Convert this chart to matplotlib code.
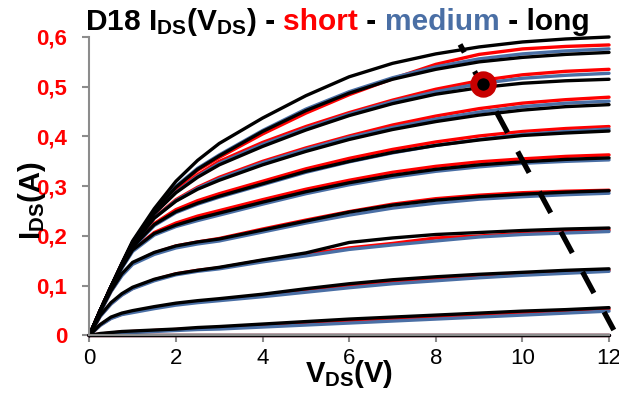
"""
Caracteristiques I_DS(V_DS) du transistor D18 pour trois longueurs de grille
(short / medium / long), une courbe par tension de grille.
"""
import matplotlib
matplotlib.use("Agg")
import matplotlib.pyplot as plt

plt.rcParams["font.family"] = ["Liberation Sans", "DejaVu Sans"]
plt.rcParams["mathtext.default"] = "regular"
plt.rcParams["lines.scale_dashes"] = False

RED = "#FF0000"
BLUE = "#4A6FA5"
BLACK = "#000000"
GREY = "#8C8C8C"

# tension drain-source (V)
v_ds = [0, 0.25, 0.5, 0.75, 1, 1.5, 2, 2.5, 3, 4, 5, 6, 7, 8, 9, 10, 11, 12]

# courant I_DS (A), une liste par tension de grille, de la plus forte a la plus faible
long_ids = [
    [0, .05, .098, .145, .19, .255, .31, .352, .386, .437, .482, .52, .547, .566, .58, .59, .596, .600],
    [0, .05, .098, .144, .188, .25, .298, .334, .361, .41, .452, .487, .515, .535, .55, .559, .565, .569],
    [0, .05, .098, .143, .186, .245, .287, .318, .343, .38, .413, .442, .466, .485, .498, .507, .512, .515],
    [0, .05, .098, .141, .182, .236, .27, .294, .312, .343, .37, .394, .414, .43, .443, .453, .46, .464],
    [0, .05, .097, .14, .178, .223, .249, .266, .28, .305, .33, .35, .368, .382, .393, .402, .407, .411],
    [0, .05, .096, .137, .172, .205, .222, .235, .246, .268, .289, .307, .322, .334, .343, .349, .354, .357],
    [0, .048, .09, .124, .147, .167, .18, .188, .194, .212, .23, .248, .262, .272, .279, .284, .288, .291],
    [0, .04, .066, .084, .097, .113, .124, .131, .137, .152, .166, .187, .196, .203, .207, .211, .214, .216],
    [0, .022, .037, .045, .05, .058, .065, .07, .074, .083, .094, .104, .112, .118, .123, .127, .131, .134],
    [0, .004, .006, .008, .009, .011, .013, .016, .018, .023, .028, .033, .037, .041, .045, .049, .052, .056],
    [0, 0, 0, 0, 0, 0, 0, 0, 0, 0, 0, 0, 0, 0, 0, 0, 0, 0],
]

short_ids = [
    [0, .05, .098, .144, .187, .248, .296, .332, .358, .405, .447, .484, .516, .545, .565, .576, .581, .584],
    [0, .05, .098, .143, .186, .246, .29, .323, .35, .388, .42, .448, .473, .495, .512, .524, .531, .535],
    [0, .05, .098, .141, .182, .237, .273, .298, .318, .35, .377, .401, .423, .441, .456, .467, .474, .479],
    [0, .05, .097, .14, .178, .225, .253, .271, .285, .31, .335, .356, .374, .389, .401, .41, .416, .42],
    [0, .05, .096, .137, .172, .207, .226, .24, .251, .273, .294, .312, .328, .34, .349, .355, .36, .363],
    [0, .047, .089, .122, .145, .166, .18, .188, .195, .214, .232, .249, .264, .275, .282, .287, .29, .292],
    [0, .039, .064, .082, .095, .112, .124, .131, .136, .151, .163, .176, .185, .196, .2, .205, .209, .212],
    [0, .021, .035, .043, .048, .056, .063, .068, .072, .081, .091, .1, .108, .115, .12, .125, .128, .131],
    [0, .003, .005, .007, .008, .01, .012, .014, .016, .021, .025, .03, .034, .038, .042, .046, .05, .053],
    [0, 0, 0, 0, 0, 0, 0, 0, 0, 0, 0, 0, 0, 0, 0, 0, 0, 0],
]

medium_ids = [
    [0, .05, .098, .144, .188, .25, .30, .336, .363, .412, .455, .49, .518, .54, .556, .566, .572, .576],
    [0, .05, .098, .143, .186, .245, .288, .32, .346, .384, .416, .445, .47, .49, .506, .517, .523, .527],
    [0, .05, .098, .141, .182, .236, .271, .296, .315, .347, .374, .398, .418, .435, .449, .46, .467, .471],
    [0, .05, .097, .139, .176, .221, .247, .264, .278, .303, .328, .349, .367, .382, .394, .404, .41, .415],
    [0, .049, .095, .135, .169, .202, .219, .231, .242, .264, .285, .303, .318, .33, .339, .346, .35, .353],
    [0, .046, .088, .12, .143, .163, .176, .184, .19, .208, .226, .242, .256, .266, .274, .279, .283, .286],
    [0, .038, .063, .081, .094, .11, .122, .129, .134, .148, .16, .173, .182, .19, .198, .203, .206, .209],
    [0, .02, .034, .042, .046, .054, .061, .066, .07, .078, .087, .096, .104, .11, .116, .121, .125, .129],
    [0, .002, .004, .005, .006, .008, .01, .012, .013, .017, .021, .025, .029, .033, .037, .041, .045, .049],
    [0, 0, 0, 0, 0, 0, 0, 0, 0, 0, 0, 0, 0, 0, 0, 0, 0, 0],
]

# lieu de saturation (trait pointille) et point de fonctionnement
vsat_v = [8.56, 12.11]
vsat_i = [0.585, 0.011]
op_v = [9.08]
op_i = [0.505]

x_ticks = [0, 2, 4, 6, 8, 10, 12]
y_ticks = [0, 0.1, 0.2, 0.3, 0.4, 0.5, 0.6]
y_labels = ["0", "0,1", "0,2", "0,3", "0,4", "0,5", "0,6"]


def colored_title(fig, x, y, pieces, **kw):
    # texte multicolore : chaque morceau commence la ou finit le precedent
    renderer = fig.canvas.get_renderer()
    inv = fig.transFigure.inverted()
    for s, c in pieces:
        t = fig.text(x, y, s, color=c, va="baseline", **kw)
        bb = t.get_window_extent(renderer)
        x = inv.transform((bb.x1, bb.y0))[0]


def main():
    fig = plt.figure(figsize=(6.19, 3.96), dpi=100)
    ax = fig.add_axes([0.1443, 0.1528, 0.8396, 0.7538])

    for curves, color in ((short_ids, RED), (medium_ids, BLUE), (long_ids, BLACK)):
        for ids in curves:
            ax.plot(v_ds, ids, color=color, lw=2.4, solid_capstyle="round",
                    solid_joinstyle="round", clip_on=False)

    ax.plot(vsat_v, vsat_i, color=BLACK, lw=3.8,
            linestyle=(10.8, (17.3, 15.5)), dash_capstyle="butt", clip_on=False, zorder=5)
    ax.plot(op_v, op_i, "o", ms=14, mfc=BLACK, mec="#C80000", mew=5,
            clip_on=False, zorder=6)

    ax.set_xlim(0, 12)
    ax.set_ylim(0, 0.6)
    ax.set_xticks(x_ticks)
    ax.set_xticklabels([str(v) for v in x_ticks])
    ax.set_yticks(y_ticks)
    ax.set_yticklabels(y_labels)

    for side in ("top", "right"):
        ax.spines[side].set_visible(False)
    for side in ("left", "bottom"):
        ax.spines[side].set_color(GREY)
        ax.spines[side].set_linewidth(1.5)

    ax.tick_params(axis="both", direction="out", length=5, width=1.5, color=GREY)
    ax.tick_params(axis="x", labelsize=16, pad=4)
    ax.tick_params(axis="y", labelsize=16, labelcolor=RED, pad=11)
    for lab in ax.get_yticklabels():
        lab.set_fontweight("bold")

    ax.set_xlabel(r"V$_{DS}$(V)", fontsize=21, fontweight="bold", labelpad=-8)
    ax.set_ylabel(r"I$_{DS}$(A)", fontsize=21, fontweight="bold")
    ax.yaxis.set_label_coords(-0.08, 0.45)

    colored_title(fig, 85 / 619, (396 - 30) / 396, [
        (r"D18 I$_{DS}$(V$_{DS}$)", BLACK),
        (" - ", BLACK),
        ("short", RED),
        (" - ", BLACK),
        ("medium", BLUE),
        (" - long", BLACK),
    ], fontsize=21.5, fontweight="bold")

    fig.savefig("out.png", dpi=100)
    plt.close(fig)


if __name__ == "__main__":
    main()
